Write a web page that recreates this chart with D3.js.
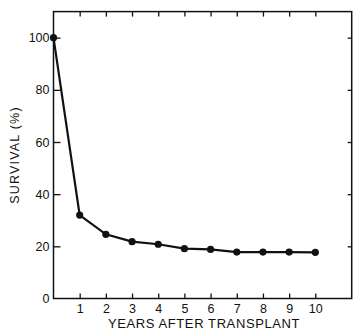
<!DOCTYPE html>
<html><head><meta charset="utf-8">
<script src="https://cdn.jsdelivr.net/npm/d3@7"></script>
<style>body{margin:0;background:#fff}svg{display:block}text{font-family:"Liberation Sans",Arial,sans-serif;fill:#111}</style>
</head><body><svg id="c" width="354" height="332"></svg>
<script>
const years = [0,1,2,3,4,5,6,7,8,9,10];
const survival = [100,32,24.6,21.8,20.8,19.1,18.8,17.8,17.8,17.8,17.7];
const yTicks = [0,20,40,60,80,100];
const xTicks = [1,2,3,4,5,6,7,8,9,10];
const xTitle = "YEARS AFTER TRANSPLANT";
const yTitle = "SURVIVAL (%)";

const svg = d3.select("#c");
const L=53.5, T=11.6, R=351.7, B=298.5;
const x = d3.scaleLinear().domain([0,11.39]).range([L,R]);
const y = d3.scaleLinear().domain([0,110]).range([B,T]);
const g = svg.append("g");
// frame
g.append("rect").attr("x",L).attr("y",T).attr("width",R-L).attr("height",B-T)
 .attr("fill","none").attr("stroke","#111").attr("stroke-width",1.5);
// axes (inward ticks)
const ax = g.append("g").attr("transform",`translate(0,${B})`)
 .call(d3.axisBottom(x).tickValues(xTicks).tickSizeInner(-5).tickSizeOuter(0).tickPadding(6));
const axT = g.append("g").attr("transform",`translate(0,${T})`)
 .call(d3.axisTop(x).tickValues(xTicks).tickSizeInner(-5).tickSizeOuter(0).tickFormat(""));
const ayL = g.append("g").attr("transform",`translate(${L},0)`)
 .call(d3.axisLeft(y).tickValues(yTicks).tickSizeInner(-7).tickSizeOuter(0).tickPadding(4));
const ayR = g.append("g").attr("transform",`translate(${R},0)`)
 .call(d3.axisRight(y).tickValues(yTicks.filter(v=>v>0)).tickSizeInner(-4).tickSizeOuter(0).tickFormat(""));
[ax,axT,ayL,ayR].forEach(a=>{a.select(".domain").remove();a.selectAll("line").attr("stroke","#111").attr("stroke-width",1.3);
 a.selectAll("text").attr("font-size",12.5).attr("fill","#111").attr("font-family",'"Liberation Sans",Arial,sans-serif');});
ayL.selectAll(".tick").filter(d=>d===0).select("line").remove();
// line
g.append("path").datum(years.map((d,i)=>[d,survival[i]]))
 .attr("d",d3.line().x(d=>x(d[0])).y(d=>y(d[1])))
 .attr("fill","none").attr("stroke","#111").attr("stroke-width",2.2);
g.selectAll("circle.p").data(years).join("circle").attr("class","p")
 .attr("cx",d=>x(d)).attr("cy",(d,i)=>y(survival[i])).attr("r",3.6).attr("fill","#111");
// titles
svg.append("text").attr("x",204).attr("y",328).attr("text-anchor","middle")
 .attr("font-size",13).attr("letter-spacing",0.6).text(xTitle);
svg.append("text").attr("transform","translate(18.5,155) rotate(-90)").attr("text-anchor","middle")
 .attr("font-size",12.5).attr("letter-spacing",1.2).text(yTitle);
</script></body></html>
